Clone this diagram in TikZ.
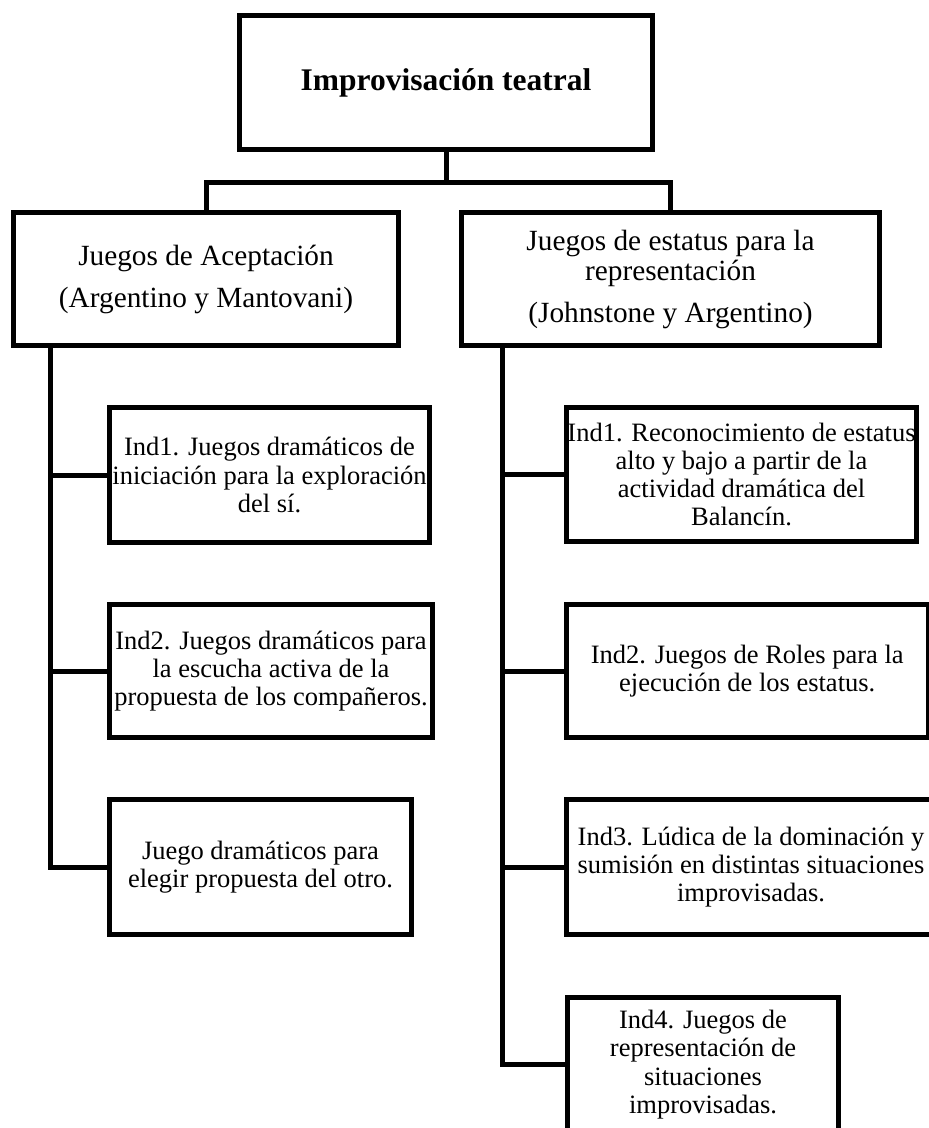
\documentclass[tikz,border=0pt]{standalone}
\usepackage{fontspec}
\setmainfont{Liberation Serif}

\begin{document}
\begin{tikzpicture}[
    x=1pt, y=-1pt,
    box/.style={draw, line width=5pt, inner sep=0pt, align=center},
    title/.style={box, font=\fontsize{31.5}{34}\selectfont\bfseries},
    group/.style={box, font=\fontsize{29.3}{30}\selectfont},
    item/.style={box, font=\fontsize{26.5}{28.3}\selectfont},
    link/.style={line width=5pt}
]
\clip (0,0) rectangle (929,1128);

% Root
\node[title, minimum width=413, minimum height=134] (root) at (446,82.5) {Improvisación teatral};

% Groups
\node[group, minimum width=385, minimum height=133] (acep) at (206,279)
    {Juegos de Aceptación\\[12pt](Argentino y Mantovani)};
\node[group, minimum width=418, minimum height=133] (estatus) at (670.5,279)
    {Juegos de estatus para la\\representación\\[12pt](Johnstone y Argentino)};

% Items: aceptacion
\node[item, minimum width=320, minimum height=135.5] (a1) at (269.5,475)
    {Ind1. Juegos dramáticos de\\iniciación para la exploración\\del sí.};
\node[item, minimum width=323, minimum height=133] (a2) at (271,671)
    {Ind2. Juegos dramáticos para\\la escucha activa de la\\propuesta de los compañeros.};
\node[item, minimum width=302, minimum height=135] (a3) at (260.5,867)
    {Juego dramáticos para\\elegir propuesta del otro.};

% Items: estatus
\node[item, minimum width=350, minimum height=134] (b1) at (741.5,474.5)
    {Ind1. Reconocimiento de estatus\\alto y bajo a partir de la\\actividad dramática del\\Balancín.};
\node[item, minimum width=361.5, minimum height=133] (b2) at (747.25,671)
    {Ind2. Juegos de Roles para la\\ejecución de los estatus.};
\node[item, minimum width=369, minimum height=135] (b3) at (751,867)
    {Ind3. Lúdica de la dominación y\\sumisión en distintas situaciones\\improvisadas.};
\node[item, minimum width=271, minimum height=134] (b4) at (703,1064.5)
    {Ind4. Juegos de\\representación de\\situaciones\\improvisadas.};

% Root to groups
\draw[link] (root.south) -- ++(0,30) -| (acep.north);
\draw[link] (root.south) -- ++(0,30) -| (estatus.north);

% Trunks
\coordinate (ta) at (50,345.5);
\coordinate (tb) at (502,345.5);
\draw[link] (ta) |- (a3.west);
\draw[link] (tb) |- (b4.west);
\foreach \n in {a1,a2}
    \draw[link] (\n.west) -- (\n.west -| ta);
\foreach \n in {b1,b2,b3}
    \draw[link] (\n.west) -- (\n.west -| tb);

\end{tikzpicture}
\end{document}
